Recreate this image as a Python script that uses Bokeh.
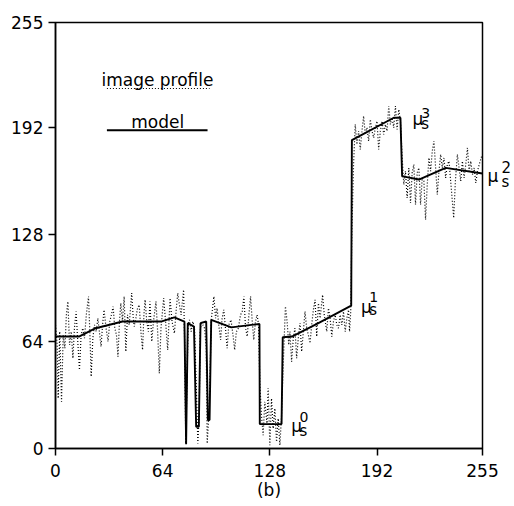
from bokeh.plotting import figure
from bokeh.models import FixedTicker, Label, Range1d, LinearAxis
from bokeh.embed import file_html
from bokeh.resources import INLINE

# ---- data ----
profile_pts = [
    (0, 74), (1, 62), (1.6, 30), (2.5, 70), (3.6, 28), (4.6, 68), (5.6, 60), (6.5, 80), (7.4, 88),
    (8.4, 62), (9.4, 70), (10.4, 54), (11.3, 72), (12.3, 82), (13.3, 64), (14.3, 47), (15.3, 68),
    (16.3, 72), (17.3, 66), (18.4, 80), (19.7, 91), (20.5, 70), (21.3, 43), (22.3, 66), (23.3, 74),
    (24.3, 70), (25.3, 78), (26.2, 70), (27.2, 61), (28.1, 74), (29, 83), (30.2, 72), (31.4, 64),
    (32.4, 76), (33.4, 80), (34.4, 85), (35.4, 72), (36.4, 68), (37.3, 55), (38.2, 76), (39, 87),
    (40, 76), (41, 91), (42, 58), (43, 80), (44, 74), (45.5, 93), (46.3, 80), (47, 73), (48, 78),
    (49, 84), (50, 86), (51, 70), (52, 59), (52.8, 80), (53.5, 89), (54.5, 76), (55.5, 70),
    (56.4, 88), (57.5, 64), (58.5, 76), (60, 88), (61, 70), (62, 45), (63, 72), (64.6, 90),
    (65.6, 78), (67, 59), (68.4, 90), (69.6, 76), (71, 69), (72, 82), (73, 93), (74, 86), (75, 80),
    (76.5, 95), (77.2, 60), (77.8, 3),
    (78.5, 40), (79.2, 74), (80, 77), (81, 70), (82, 76), (83, 72), (84, 40), (85, 3), (85.8, 20),
    (86.4, 70), (87.2, 76), (88, 74), (89, 72), (90, 60), (90.6, 3), (91.4, 17), (92.2, 40),
    (93, 77), (94.6, 91), (95.6, 78), (96.5, 84), (97.5, 74), (98.6, 65), (99.5, 78), (100.5, 83),
    (101.5, 72), (102.5, 60), (103.5, 74), (104.8, 77), (106, 68), (107, 59), (108, 70), (109, 71),
    (110.5, 80), (111.5, 82), (112.5, 91), (113.5, 72), (114.5, 67), (115.5, 80), (116.5, 91),
    (117.5, 76), (118.4, 65), (119.4, 76), (120.4, 80), (121.3, 74),
    (122, 40), (123, 20), (124, 8), (125, 28), (126.3, 15), (127, 36), (128, 2), (129, 30),
    (130, 12), (131, 24), (132, 4), (133, 18), (134, 2), (135, 20), (136, 50), (137.3, 85),
    (138.3, 76), (139.3, 62), (140, 70), (141, 52), (142, 66), (143, 72), (144, 54), (145, 66),
    (146, 75), (147, 58), (148, 70), (149, 82), (150, 72), (151, 68), (152, 63), (153, 74),
    (154, 83), (155, 89), (156, 67), (157, 87), (158, 78), (159.5, 92), (160.5, 80), (162, 70),
    (163, 84), (164, 78), (165, 67), (166, 76), (167, 80), (168, 74), (169, 72), (170, 80),
    (171, 74), (172, 82), (173, 70), (174, 78), (175, 83), (175.6, 70), (176.3, 82),
    (177, 130), (178, 170), (179, 194), (180, 182), (181, 190), (182, 179), (183, 190), (184, 199),
    (185, 188), (186, 192), (187, 184), (188, 197), (189, 190), (190, 186), (191, 192), (192, 196),
    (193, 179), (194, 190), (195, 196), (196, 188), (197, 194), (198, 190), (199, 205), (200, 194),
    (201, 198), (202, 192), (203, 205), (204, 191), (205, 203), (206, 196),
    (207, 175), (208, 158), (209, 166), (210, 150), (211, 168), (212, 147), (213, 165), (214, 170),
    (215, 146), (216, 165), (217, 168), (218, 146), (219, 162), (220, 160), (221, 137), (222, 158),
    (223, 174), (224, 166), (225, 178), (226, 184), (227, 168), (228, 152), (229, 166), (230, 176),
    (231, 168), (232, 174), (233, 162), (234, 170), (235, 172), (236, 160), (237.8, 138),
    (238.8, 160), (240, 176), (241, 168), (242, 160), (243, 172), (244, 162), (245, 170),
    (246, 180), (247, 166), (248, 172), (249, 164), (250, 168), (251, 159), (252, 166),
    (253.6, 172), (254.5, 175),
]
profile_x = [p_[0] for p_ in profile_pts]
profile_y = [p_[1] for p_ in profile_pts]

model_x = [0, 14, 24, 40, 63, 71, 77, 78, 79, 82.7, 84, 85.6, 86.6, 90, 91, 92, 93, 105, 117,
           121.8, 122, 135, 135.7, 141.2, 157, 176.6, 177, 202, 206, 207, 209, 217, 233, 255]
model_y = [67, 67, 72, 76, 76, 78.5, 76, 2.5, 75, 73, 13, 13, 75, 76, 17, 17, 77, 72.5, 74,
           74.5, 14.6, 14.6, 66.6, 67, 75, 85.5, 184.6, 198, 198, 163, 162.6, 161, 168, 164.6]

tick_values = [0, 64, 128, 192, 255]
legend_labels = ["image profile", "model"]
level_indices = ["0", "1", "3"]
edge_level = "2"
caption = "(b)"

FONT = "DejaVu Sans"

p = figure(width=514, height=506, output_backend="svg", toolbar_location=None,
           x_range=Range1d(0, 255), y_range=Range1d(0, 255),
           min_border_left=55, min_border_right=31, min_border_top=22, min_border_bottom=58)
p.background_fill_color = "white"
p.border_fill_color = "white"
p.outline_line_color = "black"
p.outline_line_width = 1.5
p.outline_line_alpha = 1.0
p.grid.visible = False

for ax in (p.xaxis, p.yaxis):
    ax.ticker = FixedTicker(ticks=tick_values)
    ax.minor_tick_line_color = None
    ax.major_tick_in = 0
    ax.major_tick_out = 7
    ax.major_tick_line_width = 1.5
    ax.axis_line_width = 1.5
    ax.axis_line_color = "black"
    ax.major_tick_line_color = "black"
    ax.major_label_text_font = FONT
    ax.major_label_text_font_size = "17px"
    ax.major_label_text_color = "black"
p.xaxis.major_label_standoff = 8
p.yaxis.major_label_standoff = 5
p.xaxis.axis_label = caption
p.xaxis.axis_label_text_font = FONT
p.xaxis.axis_label_text_font_size = "17px"
p.xaxis.axis_label_text_font_style = "normal"
p.xaxis.axis_label_text_color = "black"
p.xaxis.axis_label_standoff = 0

p.line(profile_x, profile_y, line_color="black", line_width=1.2, line_dash="1 2")
p.line(model_x, model_y, line_color="black", line_width=1.9)

# legend (text above sample line)
p.segment(x0=[30.7], y0=[215.5], x1=[92.0], y1=[215.5], line_color="black",
          line_width=1.2, line_dash="1 2")
p.segment(x0=[30.7], y0=[190.5], x1=[90.8], y1=[190.5], line_color="black", line_width=1.8)
p.add_layout(Label(x=60.9, y=220.5, text=legend_labels[0], text_align="center",
                   text_baseline="alphabetic", text_font=FONT, text_font_size="17px",
                   text_color="black"))
p.add_layout(Label(x=61.0, y=195.3, text=legend_labels[1], text_align="center",
                   text_baseline="alphabetic", text_font=FONT, text_font_size="17px",
                   text_color="black"))

# level annotations mu_s^k inside the frame : (mu x, mu y, s x, s y, idx y)
level_pos = {
    "0": (140.8, 13.5, 145.7, 10.5, 18.8),
    "1": (182.5, 85.0, 187.4, 82.8, 90.8),
    "3": (213.2, 197.0, 218.4, 194.2, 200.8),
}
for k in level_indices:
    mx, my, sx, sy, iy = level_pos[k]
    p.add_layout(Label(x=mx, y=my, text="μ", text_font=FONT, text_font_size="17px",
                       text_baseline="alphabetic", text_color="black"))
    p.add_layout(Label(x=sx, y=sy, text="s", text_font=FONT, text_font_size="15px",
                       text_baseline="alphabetic", text_color="black"))
    p.add_layout(Label(x=sx, y=iy, text=k, text_font=FONT, text_font_size="14px",
                       text_baseline="alphabetic", text_color="black"))

# mu_s^2 sits outside the frame at the right edge: drawn as right-side axis labels
mu_y, s_y, idx_y = 163, 159.5, 168
ax_mu = LinearAxis(ticker=FixedTicker(ticks=[mu_y]), major_label_overrides={mu_y: "μ"},
                   axis_line_color=None, major_tick_line_color=None,
                   minor_tick_line_color=None, major_tick_in=0, major_tick_out=0,
                   major_label_standoff=5, major_label_text_font=FONT,
                   major_label_text_font_size="17px", major_label_text_color="black")
ax_s2 = LinearAxis(ticker=FixedTicker(ticks=[s_y, idx_y]),
                   major_label_overrides={s_y: "s", idx_y: edge_level},
                   axis_line_color=None, major_tick_line_color=None,
                   minor_tick_line_color=None, major_tick_in=0, major_tick_out=0,
                   major_label_standoff=0, major_label_text_font=FONT,
                   major_label_text_font_size="15px", major_label_text_color="black")
p.add_layout(ax_mu, "right")
p.add_layout(ax_s2, "right")

open("out.html", "w").write(file_html(p, INLINE))
